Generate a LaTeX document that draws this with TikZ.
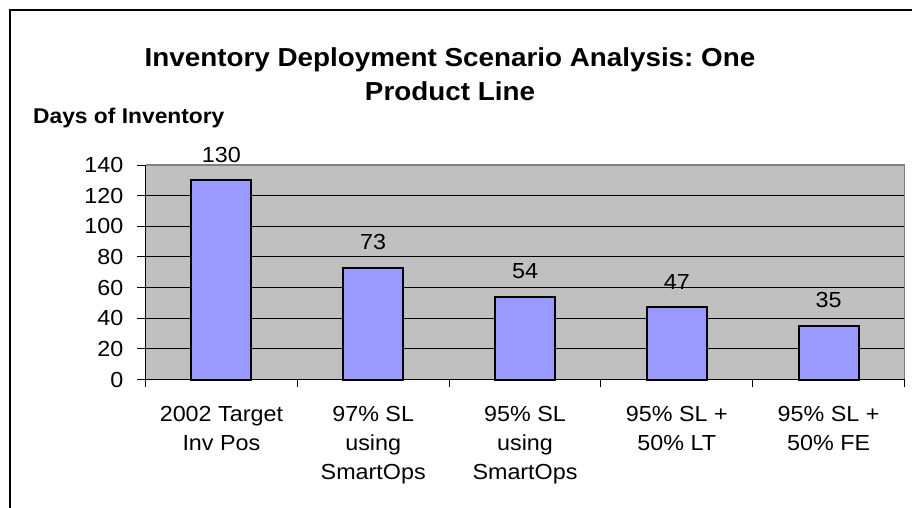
\documentclass[tikz,border=0pt]{standalone}
\usepackage{fontspec}
\setmainfont[FakeStretch=1.07]{Liberation Sans}
\frenchspacing
\definecolor{plotbg}{HTML}{C0C0C0}
\definecolor{barfill}{HTML}{9999FF}
\definecolor{plotedge}{HTML}{808080}
\begin{document}
\begin{tikzpicture}[x=1pt,y=-1pt,
  txt/.style={inner sep=0pt,font=\fontsize{21.8}{26}\selectfont},
  ttl/.style={inner sep=0pt,font=\fontsize{26}{31}\selectfont\bfseries},
  barbox/.style={draw=black,line width=2pt,fill=barfill},
  grid line/.style={draw=black,line width=1pt},
  axis line/.style={draw=black,line width=1pt}]
\useasboundingbox (0,0) rectangle (912,508);
\fill[white] (0,0) rectangle (912,508);
% outer chart frame
\draw[line width=2pt] (10,508) -- (10,10) -- (912,10);
% titles
\node[ttl,anchor=base] (t1) at (450,66.7) {Inventory Deployment Scenario Analysis: One};
\node[ttl,anchor=base] (t2) at (450,100.5) {Product Line};
\node[txt,anchor=base west,font=\fontsize{21.3}{25}\selectfont\bfseries] (ytitle) at (33,123.3) {Days of Inventory};
% plot area: left 145.5, right 904.5, top 165 (140), bottom 379.5 (0)
\pgfmathsetmacro{\pl}{145.5}
\pgfmathsetmacro{\pr}{904.5}
\pgfmathsetmacro{\pt}{165}
\pgfmathsetmacro{\pb}{379.5}
\pgfmathsetmacro{\unit}{(\pb-\pt)/140}
\pgfmathsetmacro{\cw}{(\pr-\pl)/5}
\fill[plotbg] (\pl,\pt) rectangle (\pr,\pb);
\foreach \v in {20,40,...,120}
  \draw[grid line] (\pl,{\pb-\v*\unit}) -- (\pr,{\pb-\v*\unit});
\draw[plotedge,line width=1.5pt] (\pl,\pt) -- (\pr,\pt) -- (\pr,\pb);
% value axis with ticks and labels
\draw[axis line] (\pl,\pt) -- (\pl,\pb);
\foreach \v in {0,20,...,140}{
  \draw[axis line] (137,{\pb-\v*\unit}) -- (\pl,{\pb-\v*\unit});
  \node[txt,anchor=east] (yl\v) at (123.5,{\pb-\v*\unit}) {\v};
}
% category axis with ticks
\draw[axis line] (\pl,\pb) -- (\pr,\pb);
\foreach \k in {0,...,5}
  \draw[axis line] ({\pl+\k*\cw},\pb) -- ({\pl+\k*\cw},{\pb+7.5});
% bars and value labels
\foreach \v [count=\i from 0] in {130,73,54,47,35}{
  \pgfmathsetmacro{\cx}{\pl+(\i+0.5)*\cw}
  \draw[barbox] ({\cx-30},\pb) rectangle ({\cx+30},{\pb-\v*\unit});
  \node[txt,anchor=south] (val\i) at (\cx,{\pb-\v*\unit-17.5}) {\v};
}
% category labels
\pgfmathsetmacro{\ca}{\pl+0.5*\cw}
\pgfmathsetmacro{\cb}{\pl+1.5*\cw}
\pgfmathsetmacro{\cc}{\pl+2.5*\cw}
\pgfmathsetmacro{\cd}{\pl+3.5*\cw}
\pgfmathsetmacro{\ce}{\pl+4.5*\cw}
\node[txt,anchor=base] (c1a) at (\ca,421) {2002 Target};
\node[txt,anchor=base] (c1b) at (\ca,450) {Inv Pos};
\node[txt,anchor=base] (c2a) at (\cb,421) {97\% SL};
\node[txt,anchor=base] (c2b) at (\cb,450) {using};
\node[txt,anchor=base] (c2c) at (\cb,479) {SmartOps};
\node[txt,anchor=base] (c3a) at (\cc,421) {95\% SL};
\node[txt,anchor=base] (c3b) at (\cc,450) {using};
\node[txt,anchor=base] (c3c) at (\cc,479) {SmartOps};
\node[txt,anchor=base] (c4a) at (\cd,421) {95\% SL +};
\node[txt,anchor=base] (c4b) at (\cd,450) {50\% LT};
\node[txt,anchor=base] (c5a) at (\ce,421) {95\% SL +};
\node[txt,anchor=base] (c5b) at (\ce,450) {50\% FE};
\end{tikzpicture}
\end{document}
